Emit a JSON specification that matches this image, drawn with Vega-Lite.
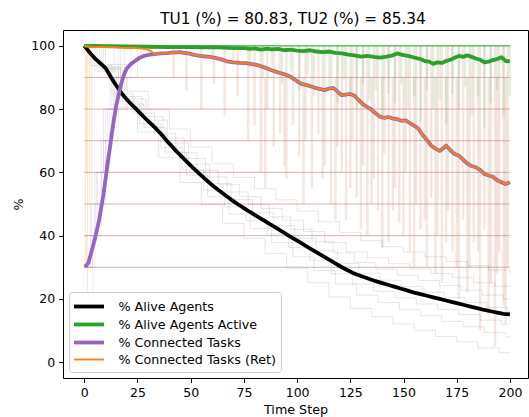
{
  "$schema": "https://vega.github.io/schema/vega-lite/v6.json",
  "width": 465,
  "height": 348,
  "autosize": {"type": "none"},
  "padding": {"left": 63, "top": 30, "right": 1, "bottom": 39},
  "background": "white",
  "title": {"text": "TU1 (%) = 80.83, TU2 (%) = 85.34", "font": "DejaVu Sans", "fontSize": 15.3, "fontWeight": "normal", "color": "#000000", "anchor": "middle", "baseline": "bottom", "offset": -12, "dx": -2.5},
  "config": {
    "view": {"stroke": "#000000", "strokeWidth": 1},
    "axis": {"domain": false, "grid": false, "ticks": true, "tickColor": "#000000", "tickSize": 4.4, "tickWidth": 1, "labelColor": "#000000", "labelFont": "DejaVu Sans", "labelFontSize": 12.5, "labelPadding": 4, "titleFont": "DejaVu Sans", "titleFontSize": 12.7, "titleFontWeight": "normal", "titleColor": "#000000", "labelFlush": false, "labelOverlap": false}
  },
  "datasets": {
    "main": [
      {"s":"% Alive Agents","t":0,"v":100},{"s":"% Alive Agents","t":1,"v":99.2},{"s":"% Alive Agents","t":2,"v":98.3},{"s":"% Alive Agents","t":3,"v":97.5},{"s":"% Alive Agents","t":4,"v":96.8},{"s":"% Alive Agents","t":5,"v":96},{"s":"% Alive Agents","t":6,"v":95.4},{"s":"% Alive Agents","t":7,"v":94.8},{"s":"% Alive Agents","t":8,"v":94.2},{"s":"% Alive Agents","t":9,"v":93.6},{"s":"% Alive Agents","t":10,"v":93},{"s":"% Alive Agents","t":12,"v":90.7},{"s":"% Alive Agents","t":14,"v":88.5},{"s":"% Alive Agents","t":16,"v":86.5},{"s":"% Alive Agents","t":18,"v":84.6},{"s":"% Alive Agents","t":20,"v":83},{"s":"% Alive Agents","t":22,"v":81.6},{"s":"% Alive Agents","t":24,"v":80.3},{"s":"% Alive Agents","t":26,"v":78.9},{"s":"% Alive Agents","t":28,"v":77.5},{"s":"% Alive Agents","t":30,"v":76.2},{"s":"% Alive Agents","t":33,"v":74.3},{"s":"% Alive Agents","t":36,"v":72.2},{"s":"% Alive Agents","t":39,"v":69.8},{"s":"% Alive Agents","t":42,"v":67.6},{"s":"% Alive Agents","t":45,"v":65.5},{"s":"% Alive Agents","t":48,"v":63.5},{"s":"% Alive Agents","t":51,"v":61.5},{"s":"% Alive Agents","t":54,"v":59.6},{"s":"% Alive Agents","t":57,"v":57.8},{"s":"% Alive Agents","t":60,"v":56},{"s":"% Alive Agents","t":63,"v":54.4},{"s":"% Alive Agents","t":66,"v":52.9},{"s":"% Alive Agents","t":69,"v":51.4},{"s":"% Alive Agents","t":72,"v":50},{"s":"% Alive Agents","t":75,"v":48.7},{"s":"% Alive Agents","t":78,"v":47.4},{"s":"% Alive Agents","t":81,"v":46.2},{"s":"% Alive Agents","t":84,"v":45},{"s":"% Alive Agents","t":87,"v":43.7},{"s":"% Alive Agents","t":90,"v":42.5},{"s":"% Alive Agents","t":93,"v":41.3},{"s":"% Alive Agents","t":96,"v":40},{"s":"% Alive Agents","t":99,"v":38.8},{"s":"% Alive Agents","t":102,"v":37.6},{"s":"% Alive Agents","t":105,"v":36.4},{"s":"% Alive Agents","t":108,"v":35.2},{"s":"% Alive Agents","t":111,"v":34},{"s":"% Alive Agents","t":114,"v":32.8},{"s":"% Alive Agents","t":117,"v":31.6},{"s":"% Alive Agents","t":120,"v":30.4},{"s":"% Alive Agents","t":123,"v":29.3},{"s":"% Alive Agents","t":126,"v":28.3},{"s":"% Alive Agents","t":128,"v":27.7},{"s":"% Alive Agents","t":131,"v":27},{"s":"% Alive Agents","t":134,"v":26.3},{"s":"% Alive Agents","t":137,"v":25.6},{"s":"% Alive Agents","t":140,"v":25},{"s":"% Alive Agents","t":143,"v":24.4},{"s":"% Alive Agents","t":146,"v":23.8},{"s":"% Alive Agents","t":149,"v":23.2},{"s":"% Alive Agents","t":152,"v":22.6},{"s":"% Alive Agents","t":155,"v":22},{"s":"% Alive Agents","t":158,"v":21.5},{"s":"% Alive Agents","t":161,"v":21},{"s":"% Alive Agents","t":164,"v":20.5},{"s":"% Alive Agents","t":167,"v":20},{"s":"% Alive Agents","t":170,"v":19.5},{"s":"% Alive Agents","t":173,"v":19},{"s":"% Alive Agents","t":176,"v":18.5},{"s":"% Alive Agents","t":179,"v":18},{"s":"% Alive Agents","t":182,"v":17.5},{"s":"% Alive Agents","t":185,"v":17},{"s":"% Alive Agents","t":188,"v":16.5},{"s":"% Alive Agents","t":191,"v":16.1},{"s":"% Alive Agents","t":194,"v":15.7},{"s":"% Alive Agents","t":197,"v":15.3},{"s":"% Alive Agents","t":200,"v":15.1},
      {"s":"% Alive Agents Active","t":0,"v":100},{"s":"% Alive Agents Active","t":5,"v":100},{"s":"% Alive Agents Active","t":10,"v":99.9},{"s":"% Alive Agents Active","t":20,"v":99.8},{"s":"% Alive Agents Active","t":30,"v":99.7},{"s":"% Alive Agents Active","t":40,"v":99.6},{"s":"% Alive Agents Active","t":50,"v":99.6},{"s":"% Alive Agents Active","t":55,"v":99.5},{"s":"% Alive Agents Active","t":60,"v":99.6},{"s":"% Alive Agents Active","t":65,"v":99.4},{"s":"% Alive Agents Active","t":70,"v":99.3},{"s":"% Alive Agents Active","t":75,"v":99.3},{"s":"% Alive Agents Active","t":78,"v":99.0},{"s":"% Alive Agents Active","t":80,"v":99.2},{"s":"% Alive Agents Active","t":83,"v":98.8},{"s":"% Alive Agents Active","t":86,"v":99.1},{"s":"% Alive Agents Active","t":88,"v":98.9},{"s":"% Alive Agents Active","t":91,"v":99.0},{"s":"% Alive Agents Active","t":94,"v":98.6},{"s":"% Alive Agents Active","t":97,"v":98.8},{"s":"% Alive Agents Active","t":100,"v":98.5},{"s":"% Alive Agents Active","t":103,"v":98.3},{"s":"% Alive Agents Active","t":106,"v":98.6},{"s":"% Alive Agents Active","t":109,"v":98.2},{"s":"% Alive Agents Active","t":112,"v":98.0},{"s":"% Alive Agents Active","t":115,"v":98.2},{"s":"% Alive Agents Active","t":118,"v":97.8},{"s":"% Alive Agents Active","t":121,"v":97.6},{"s":"% Alive Agents Active","t":124,"v":97.2},{"s":"% Alive Agents Active","t":127,"v":97.0},{"s":"% Alive Agents Active","t":130,"v":96.6},{"s":"% Alive Agents Active","t":133,"v":96.8},{"s":"% Alive Agents Active","t":136,"v":96.5},{"s":"% Alive Agents Active","t":139,"v":96.3},{"s":"% Alive Agents Active","t":142,"v":96.6},{"s":"% Alive Agents Active","t":145,"v":97.0},{"s":"% Alive Agents Active","t":147,"v":97.6},{"s":"% Alive Agents Active","t":149,"v":97.2},{"s":"% Alive Agents Active","t":152,"v":96.8},{"s":"% Alive Agents Active","t":155,"v":96.3},{"s":"% Alive Agents Active","t":158,"v":95.8},{"s":"% Alive Agents Active","t":160,"v":95.2},{"s":"% Alive Agents Active","t":162,"v":95.0},{"s":"% Alive Agents Active","t":164,"v":94.3},{"s":"% Alive Agents Active","t":166,"v":94.8},{"s":"% Alive Agents Active","t":168,"v":94.6},{"s":"% Alive Agents Active","t":170,"v":95.2},{"s":"% Alive Agents Active","t":172,"v":95.6},{"s":"% Alive Agents Active","t":174,"v":96.2},{"s":"% Alive Agents Active","t":176,"v":96.8},{"s":"% Alive Agents Active","t":178,"v":96.5},{"s":"% Alive Agents Active","t":180,"v":97.0},{"s":"% Alive Agents Active","t":182,"v":96.5},{"s":"% Alive Agents Active","t":184,"v":96.0},{"s":"% Alive Agents Active","t":186,"v":95.6},{"s":"% Alive Agents Active","t":188,"v":94.8},{"s":"% Alive Agents Active","t":190,"v":95.0},{"s":"% Alive Agents Active","t":192,"v":95.5},{"s":"% Alive Agents Active","t":194,"v":95.8},{"s":"% Alive Agents Active","t":196,"v":96.4},{"s":"% Alive Agents Active","t":198,"v":95.2},{"s":"% Alive Agents Active","t":200,"v":95.1},
      {"s":"% Connected Tasks","t":0,"v":30.5},{"s":"% Connected Tasks","t":1,"v":30.5},{"s":"% Connected Tasks","t":2,"v":31.5},{"s":"% Connected Tasks","t":3,"v":34},{"s":"% Connected Tasks","t":4,"v":36.5},{"s":"% Connected Tasks","t":5,"v":39},{"s":"% Connected Tasks","t":6,"v":42},{"s":"% Connected Tasks","t":7,"v":45},{"s":"% Connected Tasks","t":8,"v":49},{"s":"% Connected Tasks","t":9,"v":53},{"s":"% Connected Tasks","t":10,"v":58},{"s":"% Connected Tasks","t":11,"v":63},{"s":"% Connected Tasks","t":12,"v":67.5},{"s":"% Connected Tasks","t":13,"v":72.5},{"s":"% Connected Tasks","t":14,"v":77},{"s":"% Connected Tasks","t":15,"v":81},{"s":"% Connected Tasks","t":16,"v":84},{"s":"% Connected Tasks","t":17,"v":87},{"s":"% Connected Tasks","t":18,"v":89.5},{"s":"% Connected Tasks","t":19,"v":91.5},{"s":"% Connected Tasks","t":20,"v":92.8},{"s":"% Connected Tasks","t":22,"v":94.3},{"s":"% Connected Tasks","t":24,"v":95.3},{"s":"% Connected Tasks","t":26,"v":96.2},{"s":"% Connected Tasks","t":28,"v":96.8},{"s":"% Connected Tasks","t":30,"v":97.1},{"s":"% Connected Tasks","t":33,"v":97.4},{"s":"% Connected Tasks","t":36,"v":97.6},{"s":"% Connected Tasks","t":39,"v":97.7},{"s":"% Connected Tasks","t":42,"v":97.9},{"s":"% Connected Tasks","t":45,"v":98.0},{"s":"% Connected Tasks","t":47,"v":97.8},{"s":"% Connected Tasks","t":49,"v":97.6},{"s":"% Connected Tasks","t":51,"v":97.2},{"s":"% Connected Tasks","t":53,"v":97.0},{"s":"% Connected Tasks","t":56,"v":96.7},{"s":"% Connected Tasks","t":59,"v":96.5},{"s":"% Connected Tasks","t":62,"v":96.1},{"s":"% Connected Tasks","t":64,"v":95.8},{"s":"% Connected Tasks","t":67,"v":95.1},{"s":"% Connected Tasks","t":70,"v":94.8},{"s":"% Connected Tasks","t":73,"v":94.6},{"s":"% Connected Tasks","t":76,"v":94.5},{"s":"% Connected Tasks","t":79,"v":94.2},{"s":"% Connected Tasks","t":82,"v":93.8},{"s":"% Connected Tasks","t":85,"v":93.1},{"s":"% Connected Tasks","t":88,"v":92.3},{"s":"% Connected Tasks","t":91,"v":91.6},{"s":"% Connected Tasks","t":94,"v":91.0},{"s":"% Connected Tasks","t":97,"v":90.2},{"s":"% Connected Tasks","t":100,"v":88.8},{"s":"% Connected Tasks","t":102,"v":88.0},{"s":"% Connected Tasks","t":105,"v":87.5},{"s":"% Connected Tasks","t":108,"v":86.8},{"s":"% Connected Tasks","t":111,"v":86.3},{"s":"% Connected Tasks","t":113,"v":86.0},{"s":"% Connected Tasks","t":115,"v":86.5},{"s":"% Connected Tasks","t":117,"v":86.7},{"s":"% Connected Tasks","t":119,"v":85.5},{"s":"% Connected Tasks","t":121,"v":84.4},{"s":"% Connected Tasks","t":123,"v":84.6},{"s":"% Connected Tasks","t":125,"v":84.8},{"s":"% Connected Tasks","t":127,"v":84.2},{"s":"% Connected Tasks","t":129,"v":82.8},{"s":"% Connected Tasks","t":131,"v":81.5},{"s":"% Connected Tasks","t":133,"v":80.6},{"s":"% Connected Tasks","t":135,"v":79.8},{"s":"% Connected Tasks","t":137,"v":78.6},{"s":"% Connected Tasks","t":139,"v":77.6},{"s":"% Connected Tasks","t":141,"v":77.2},{"s":"% Connected Tasks","t":143,"v":77.5},{"s":"% Connected Tasks","t":145,"v":77.0},{"s":"% Connected Tasks","t":147,"v":76.8},{"s":"% Connected Tasks","t":149,"v":76.3},{"s":"% Connected Tasks","t":151,"v":76.4},{"s":"% Connected Tasks","t":153,"v":75.6},{"s":"% Connected Tasks","t":155,"v":74.8},{"s":"% Connected Tasks","t":157,"v":73.8},{"s":"% Connected Tasks","t":159,"v":71.8},{"s":"% Connected Tasks","t":161,"v":70.2},{"s":"% Connected Tasks","t":163,"v":68.5},{"s":"% Connected Tasks","t":165,"v":67.5},{"s":"% Connected Tasks","t":167,"v":66.8},{"s":"% Connected Tasks","t":169,"v":67.8},{"s":"% Connected Tasks","t":170,"v":68.5},{"s":"% Connected Tasks","t":172,"v":67.0},{"s":"% Connected Tasks","t":174,"v":65.8},{"s":"% Connected Tasks","t":176,"v":65.3},{"s":"% Connected Tasks","t":178,"v":64.0},{"s":"% Connected Tasks","t":180,"v":62.8},{"s":"% Connected Tasks","t":182,"v":62.0},{"s":"% Connected Tasks","t":184,"v":61.6},{"s":"% Connected Tasks","t":186,"v":60.8},{"s":"% Connected Tasks","t":188,"v":59.5},{"s":"% Connected Tasks","t":190,"v":59.0},{"s":"% Connected Tasks","t":192,"v":58.6},{"s":"% Connected Tasks","t":194,"v":57.5},{"s":"% Connected Tasks","t":196,"v":56.9},{"s":"% Connected Tasks","t":198,"v":56.3},{"s":"% Connected Tasks","t":200,"v":56.9},
      {"s":"% Connected Tasks (Ret)","t":0,"v":100},{"s":"% Connected Tasks (Ret)","t":2,"v":99.8},{"s":"% Connected Tasks (Ret)","t":5,"v":99.6},{"s":"% Connected Tasks (Ret)","t":8,"v":99.7},{"s":"% Connected Tasks (Ret)","t":11,"v":99.5},{"s":"% Connected Tasks (Ret)","t":14,"v":99.6},{"s":"% Connected Tasks (Ret)","t":17,"v":99.4},{"s":"% Connected Tasks (Ret)","t":20,"v":99.3},{"s":"% Connected Tasks (Ret)","t":23,"v":99.4},{"s":"% Connected Tasks (Ret)","t":26,"v":99.2},{"s":"% Connected Tasks (Ret)","t":29,"v":99.0},{"s":"% Connected Tasks (Ret)","t":31,"v":98.4},{"s":"% Connected Tasks (Ret)","t":33,"v":97.4},{"s":"% Connected Tasks (Ret)","t":36,"v":97.6},{"s":"% Connected Tasks (Ret)","t":39,"v":97.7},{"s":"% Connected Tasks (Ret)","t":42,"v":97.9},{"s":"% Connected Tasks (Ret)","t":45,"v":98.0},{"s":"% Connected Tasks (Ret)","t":47,"v":97.8},{"s":"% Connected Tasks (Ret)","t":49,"v":97.6},{"s":"% Connected Tasks (Ret)","t":51,"v":97.2},{"s":"% Connected Tasks (Ret)","t":53,"v":97.0},{"s":"% Connected Tasks (Ret)","t":56,"v":96.7},{"s":"% Connected Tasks (Ret)","t":59,"v":96.5},{"s":"% Connected Tasks (Ret)","t":62,"v":96.1},{"s":"% Connected Tasks (Ret)","t":64,"v":95.8},{"s":"% Connected Tasks (Ret)","t":67,"v":95.1},{"s":"% Connected Tasks (Ret)","t":70,"v":94.8},{"s":"% Connected Tasks (Ret)","t":73,"v":94.6},{"s":"% Connected Tasks (Ret)","t":76,"v":94.5},{"s":"% Connected Tasks (Ret)","t":79,"v":94.2},{"s":"% Connected Tasks (Ret)","t":82,"v":93.8},{"s":"% Connected Tasks (Ret)","t":85,"v":93.1},{"s":"% Connected Tasks (Ret)","t":88,"v":92.3},{"s":"% Connected Tasks (Ret)","t":91,"v":91.6},{"s":"% Connected Tasks (Ret)","t":94,"v":91.0},{"s":"% Connected Tasks (Ret)","t":97,"v":90.2},{"s":"% Connected Tasks (Ret)","t":100,"v":88.8},{"s":"% Connected Tasks (Ret)","t":102,"v":88.0},{"s":"% Connected Tasks (Ret)","t":105,"v":87.5},{"s":"% Connected Tasks (Ret)","t":108,"v":86.8},{"s":"% Connected Tasks (Ret)","t":111,"v":86.3},{"s":"% Connected Tasks (Ret)","t":113,"v":86.0},{"s":"% Connected Tasks (Ret)","t":115,"v":86.5},{"s":"% Connected Tasks (Ret)","t":117,"v":86.7},{"s":"% Connected Tasks (Ret)","t":119,"v":85.5},{"s":"% Connected Tasks (Ret)","t":121,"v":84.4},{"s":"% Connected Tasks (Ret)","t":123,"v":84.6},{"s":"% Connected Tasks (Ret)","t":125,"v":84.8},{"s":"% Connected Tasks (Ret)","t":127,"v":84.2},{"s":"% Connected Tasks (Ret)","t":129,"v":82.8},{"s":"% Connected Tasks (Ret)","t":131,"v":81.5},{"s":"% Connected Tasks (Ret)","t":133,"v":80.6},{"s":"% Connected Tasks (Ret)","t":135,"v":79.8},{"s":"% Connected Tasks (Ret)","t":137,"v":78.6},{"s":"% Connected Tasks (Ret)","t":139,"v":77.6},{"s":"% Connected Tasks (Ret)","t":141,"v":77.2},{"s":"% Connected Tasks (Ret)","t":143,"v":77.5},{"s":"% Connected Tasks (Ret)","t":145,"v":77.0},{"s":"% Connected Tasks (Ret)","t":147,"v":76.8},{"s":"% Connected Tasks (Ret)","t":149,"v":76.3},{"s":"% Connected Tasks (Ret)","t":151,"v":76.4},{"s":"% Connected Tasks (Ret)","t":153,"v":75.6},{"s":"% Connected Tasks (Ret)","t":155,"v":74.8},{"s":"% Connected Tasks (Ret)","t":157,"v":73.8},{"s":"% Connected Tasks (Ret)","t":159,"v":71.8},{"s":"% Connected Tasks (Ret)","t":161,"v":70.2},{"s":"% Connected Tasks (Ret)","t":163,"v":68.5},{"s":"% Connected Tasks (Ret)","t":165,"v":67.5},{"s":"% Connected Tasks (Ret)","t":167,"v":66.8},{"s":"% Connected Tasks (Ret)","t":169,"v":67.8},{"s":"% Connected Tasks (Ret)","t":170,"v":68.5},{"s":"% Connected Tasks (Ret)","t":172,"v":67.0},{"s":"% Connected Tasks (Ret)","t":174,"v":65.8},{"s":"% Connected Tasks (Ret)","t":176,"v":65.3},{"s":"% Connected Tasks (Ret)","t":178,"v":64.0},{"s":"% Connected Tasks (Ret)","t":180,"v":62.8},{"s":"% Connected Tasks (Ret)","t":182,"v":62.0},{"s":"% Connected Tasks (Ret)","t":184,"v":61.6},{"s":"% Connected Tasks (Ret)","t":186,"v":60.8},{"s":"% Connected Tasks (Ret)","t":188,"v":59.5},{"s":"% Connected Tasks (Ret)","t":190,"v":59.0},{"s":"% Connected Tasks (Ret)","t":192,"v":58.6},{"s":"% Connected Tasks (Ret)","t":194,"v":57.5},{"s":"% Connected Tasks (Ret)","t":196,"v":56.9},{"s":"% Connected Tasks (Ret)","t":198,"v":56.3},{"s":"% Connected Tasks (Ret)","t":200,"v":56.9}
    ],
    "alive_runs": [
      {"r":1,"t":0,"v":100},{"r":1,"t":5,"v":92},{"r":1,"t":15,"v":80.6},{"r":1,"t":25,"v":72.8},{"r":1,"t":35,"v":64.6},{"r":1,"t":45,"v":56.8},{"r":1,"t":55,"v":49.8},{"r":1,"t":65,"v":43.9},{"r":1,"t":75,"v":39.1},{"r":1,"t":85,"v":34.4},{"r":1,"t":95,"v":29.7},{"r":1,"t":105,"v":25.1},{"r":1,"t":115,"v":20.6},{"r":1,"t":125,"v":17},{"r":1,"t":135,"v":14.4},{"r":1,"t":145,"v":12.1},{"r":1,"t":155,"v":10.1},{"r":1,"t":165,"v":8.1},{"r":1,"t":175,"v":6.4},{"r":1,"t":185,"v":4.5},{"r":1,"t":195,"v":3},{"r":1,"t":200,"v":3},
      {"r":2,"t":0,"v":100},{"r":2,"t":8,"v":92.5},{"r":2,"t":18,"v":81.6},{"r":2,"t":28,"v":74.2},{"r":2,"t":38,"v":66.4},{"r":2,"t":48,"v":59.1},{"r":2,"t":58,"v":52.3},{"r":2,"t":68,"v":46.8},{"r":2,"t":78,"v":42.2},{"r":2,"t":88,"v":37.8},{"r":2,"t":98,"v":33.3},{"r":2,"t":108,"v":29},{"r":2,"t":118,"v":24.7},{"r":2,"t":128,"v":21.2},{"r":2,"t":138,"v":18.9},{"r":2,"t":148,"v":16.6},{"r":2,"t":158,"v":14.7},{"r":2,"t":168,"v":12.9},{"r":2,"t":178,"v":11.2},{"r":2,"t":188,"v":9.4},{"r":2,"t":198,"v":8},{"r":2,"t":200,"v":8},
      {"r":3,"t":0,"v":100},{"r":3,"t":6,"v":92.8},{"r":3,"t":16,"v":82.4},{"r":3,"t":26,"v":75.4},{"r":3,"t":36,"v":67.9},{"r":3,"t":46,"v":60.8},{"r":3,"t":56,"v":54.4},{"r":3,"t":66,"v":49.1},{"r":3,"t":76,"v":44.7},{"r":3,"t":86,"v":40.5},{"r":3,"t":96,"v":36.2},{"r":3,"t":106,"v":32.1},{"r":3,"t":116,"v":27.9},{"r":3,"t":126,"v":24.7},{"r":3,"t":136,"v":22.4},{"r":3,"t":146,"v":20.3},{"r":3,"t":156,"v":18.4},{"r":3,"t":166,"v":16.7},{"r":3,"t":176,"v":15.1},{"r":3,"t":186,"v":13.3},{"r":3,"t":196,"v":12},{"r":3,"t":200,"v":12},
      {"r":4,"t":0,"v":100},{"r":4,"t":9,"v":93.1},{"r":4,"t":19,"v":83.2},{"r":4,"t":29,"v":76.5},{"r":4,"t":39,"v":69.3},{"r":4,"t":49,"v":62.6},{"r":4,"t":59,"v":56.5},{"r":4,"t":69,"v":51.4},{"r":4,"t":79,"v":47.2},{"r":4,"t":89,"v":43.2},{"r":4,"t":99,"v":39.1},{"r":4,"t":109,"v":35.2},{"r":4,"t":119,"v":31.2},{"r":4,"t":129,"v":28.1},{"r":4,"t":139,"v":25.9},{"r":4,"t":149,"v":23.9},{"r":4,"t":159,"v":22.1},{"r":4,"t":169,"v":20.5},{"r":4,"t":179,"v":18.9},{"r":4,"t":189,"v":17.3},{"r":4,"t":199,"v":16},{"r":4,"t":200,"v":16},
      {"r":5,"t":0,"v":100},{"r":5,"t":7,"v":93.4},{"r":5,"t":17,"v":84},{"r":5,"t":27,"v":77.6},{"r":5,"t":37,"v":70.8},{"r":5,"t":47,"v":64.4},{"r":5,"t":57,"v":58.6},{"r":5,"t":67,"v":53.8},{"r":5,"t":77,"v":49.8},{"r":5,"t":87,"v":45.9},{"r":5,"t":97,"v":42},{"r":5,"t":107,"v":38.2},{"r":5,"t":117,"v":34.5},{"r":5,"t":127,"v":31.5},{"r":5,"t":137,"v":29.4},{"r":5,"t":147,"v":27.5},{"r":5,"t":157,"v":25.8},{"r":5,"t":167,"v":24.2},{"r":5,"t":177,"v":22.8},{"r":5,"t":187,"v":21.2},{"r":5,"t":197,"v":20},{"r":5,"t":200,"v":20},
      {"r":6,"t":0,"v":100},{"r":6,"t":3,"v":93.8},{"r":6,"t":13,"v":84.8},{"r":6,"t":23,"v":78.7},{"r":6,"t":33,"v":72.3},{"r":6,"t":43,"v":66.2},{"r":6,"t":53,"v":60.6},{"r":6,"t":63,"v":56.1},{"r":6,"t":73,"v":52.3},{"r":6,"t":83,"v":48.6},{"r":6,"t":93,"v":44.9},{"r":6,"t":103,"v":41.3},{"r":6,"t":113,"v":37.8},{"r":6,"t":123,"v":34.9},{"r":6,"t":133,"v":33},{"r":6,"t":143,"v":31.1},{"r":6,"t":153,"v":29.5},{"r":6,"t":163,"v":28},{"r":6,"t":173,"v":26.7},{"r":6,"t":183,"v":25.1},{"r":6,"t":193,"v":24},{"r":6,"t":200,"v":24},
      {"r":7,"t":0,"v":100},{"r":7,"t":10,"v":94.1},{"r":7,"t":20,"v":85.6},{"r":7,"t":30,"v":79.8},{"r":7,"t":40,"v":73.7},{"r":7,"t":50,"v":68},{"r":7,"t":60,"v":62.7},{"r":7,"t":70,"v":58.4},{"r":7,"t":80,"v":54.8},{"r":7,"t":90,"v":51.3},{"r":7,"t":100,"v":47.8},{"r":7,"t":110,"v":44.4},{"r":7,"t":120,"v":41},{"r":7,"t":130,"v":38.4},{"r":7,"t":140,"v":36.5},{"r":7,"t":150,"v":34.8},{"r":7,"t":160,"v":33.3},{"r":7,"t":170,"v":31.8},{"r":7,"t":180,"v":30.5},{"r":7,"t":190,"v":29.1},{"r":7,"t":200,"v":28}
    ],
    "task_runs": [
      {"r":1,"t":0,"v":30},{"r":1,"t":3,"v":40},{"r":1,"t":6,"v":60},{"r":1,"t":9,"v":80},{"r":1,"t":12,"v":90},{"r":1,"t":16,"v":100},{"r":1,"t":30,"v":100},
      {"r":2,"t":0,"v":30},{"r":2,"t":5,"v":50},{"r":2,"t":8,"v":70},{"r":2,"t":11,"v":80},{"r":2,"t":14,"v":90},{"r":2,"t":19,"v":100},{"r":2,"t":30,"v":100},
      {"r":3,"t":0,"v":20},{"r":3,"t":4,"v":40},{"r":3,"t":7,"v":50},{"r":3,"t":10,"v":70},{"r":3,"t":13,"v":90},{"r":3,"t":17,"v":100},{"r":3,"t":30,"v":100},
      {"r":4,"t":0,"v":40},{"r":4,"t":3,"v":50},{"r":4,"t":6,"v":60},{"r":4,"t":9,"v":70},{"r":4,"t":12,"v":80},{"r":4,"t":15,"v":90},{"r":4,"t":22,"v":100},{"r":4,"t":30,"v":100},
      {"r":5,"t":0,"v":30},{"r":5,"t":4,"v":40},{"r":5,"t":8,"v":60},{"r":5,"t":12,"v":70},{"r":5,"t":16,"v":80},{"r":5,"t":20,"v":90},{"r":5,"t":25,"v":100},{"r":5,"t":30,"v":100},
      {"r":6,"t":0,"v":30},{"r":6,"t":1,"v":40},{"r":6,"t":5,"v":60},{"r":6,"t":10,"v":80},{"r":6,"t":14,"v":100},{"r":6,"t":30,"v":100}
    ],
    "levels": [
      {"k":"b","t":0,"t2":200,"v":90},{"k":"b","t":0,"t2":200,"v":80},{"k":"b","t":0,"t2":200,"v":70},{"k":"b","t":0,"t2":200,"v":60},{"k":"b","t":0,"t2":200,"v":50},{"k":"b","t":0,"t2":200,"v":40},{"k":"b","t":0,"t2":200,"v":30},
      {"k":"g","t":0,"t2":200,"v":100}
    ],
    "spikes": [
      {"k":"o","t":0.5,"v":100,"v2":30},{"k":"o","t":1,"v":100,"v2":60},{"k":"o","t":1.5,"v":100,"v2":20},{"k":"o","t":2.5,"v":100,"v2":50},{"k":"o","t":3.5,"v":100,"v2":40},
      {"k":"b","t":42,"v":100,"v2":90},{"k":"b","t":48,"v":100,"v2":86},{"k":"b","t":55,"v":100,"v2":80},{"k":"b","t":61,"v":100,"v2":88},{"k":"b","t":66,"v":100,"v2":78},{"k":"b","t":72,"v":100,"v2":84},{"k":"b","t":77,"v":100,"v2":70},
      {"k":"b","t":80,"v":100,"v2":75},{"k":"b","t":83,"v":100,"v2":60},{"k":"b","t":86,"v":100,"v2":80},{"k":"b","t":89,"v":100,"v2":68},{"k":"b","t":92,"v":100,"v2":72},{"k":"b","t":95,"v":100,"v2":58},{"k":"b","t":98,"v":100,"v2":75},{"k":"b","t":101,"v":100,"v2":65},{"k":"b","t":104,"v":100,"v2":70},{"k":"b","t":107,"v":100,"v2":55},{"k":"b","t":110,"v":100,"v2":72},{"k":"b","t":113,"v":100,"v2":62},{"k":"b","t":116,"v":100,"v2":50},{"k":"b","t":119,"v":100,"v2":68},
      {"k":"b","t":121,"v":100,"v2":60},{"k":"b","t":123,"v":100,"v2":45},{"k":"b","t":126,"v":100,"v2":70},{"k":"b","t":128,"v":100,"v2":52},{"k":"b","t":131,"v":100,"v2":62},{"k":"b","t":133,"v":100,"v2":40},{"k":"b","t":136,"v":100,"v2":58},{"k":"b","t":138,"v":100,"v2":48},{"k":"b","t":141,"v":100,"v2":66},{"k":"b","t":143,"v":100,"v2":38},{"k":"b","t":146,"v":100,"v2":55},{"k":"b","t":148,"v":100,"v2":44},{"k":"b","t":151,"v":100,"v2":60},{"k":"b","t":153,"v":100,"v2":35},{"k":"b","t":156,"v":100,"v2":50},{"k":"b","t":158,"v":100,"v2":42},
      {"k":"b","t":161,"v":100,"v2":30},{"k":"b","t":163,"v":100,"v2":52},{"k":"b","t":166,"v":100,"v2":40},{"k":"b","t":168,"v":100,"v2":25},{"k":"b","t":171,"v":100,"v2":48},{"k":"b","t":173,"v":100,"v2":35},{"k":"b","t":176,"v":100,"v2":20},{"k":"b","t":178,"v":100,"v2":45},{"k":"b","t":181,"v":100,"v2":30},{"k":"b","t":183,"v":100,"v2":38},{"k":"b","t":186,"v":100,"v2":10},{"k":"b","t":188,"v":100,"v2":42},{"k":"b","t":191,"v":100,"v2":25},{"k":"b","t":193,"v":100,"v2":5},{"k":"b","t":195,"v":100,"v2":35},{"k":"b","t":197,"v":100,"v2":18},{"k":"b","t":199,"v":100,"v2":30},
      {"k":"b","t":85,"v":90,"v2":55},{"k":"b","t":94,"v":90,"v2":62},{"k":"b","t":103,"v":90,"v2":50},{"k":"b","t":112,"v":90,"v2":58},{"k":"b","t":118,"v":90,"v2":45},{"k":"b","t":125,"v":90,"v2":55},{"k":"b","t":130,"v":90,"v2":42},{"k":"b","t":135,"v":90,"v2":50},{"k":"b","t":140,"v":90,"v2":36},{"k":"b","t":145,"v":90,"v2":48},{"k":"b","t":150,"v":90,"v2":40},{"k":"b","t":155,"v":90,"v2":30},{"k":"b","t":160,"v":90,"v2":45},{"k":"b","t":165,"v":90,"v2":28},{"k":"b","t":170,"v":90,"v2":38},{"k":"b","t":175,"v":90,"v2":30},{"k":"b","t":180,"v":90,"v2":22},{"k":"b","t":185,"v":90,"v2":35},{"k":"b","t":190,"v":90,"v2":15},{"k":"b","t":194,"v":90,"v2":28},{"k":"b","t":198,"v":90,"v2":12},
      {"k":"g","t":60,"v":100,"v2":97},{"k":"g","t":70,"v":100,"v2":95},{"k":"g","t":78,"v":100,"v2":93},{"k":"g","t":84,"v":100,"v2":90},{"k":"g","t":88,"v":100,"v2":94},{"k":"g","t":93,"v":100,"v2":88},{"k":"g","t":97,"v":100,"v2":92},{"k":"g","t":101,"v":100,"v2":86},{"k":"g","t":105,"v":100,"v2":91},{"k":"g","t":108,"v":100,"v2":84},{"k":"g","t":112,"v":100,"v2":90},{"k":"g","t":115,"v":100,"v2":87},{"k":"g","t":119,"v":100,"v2":82},{"k":"g","t":122,"v":100,"v2":89},{"k":"g","t":125,"v":100,"v2":85},{"k":"g","t":128,"v":100,"v2":80},{"k":"g","t":131,"v":100,"v2":88},{"k":"g","t":134,"v":100,"v2":83},{"k":"g","t":137,"v":100,"v2":86},{"k":"g","t":140,"v":100,"v2":78},{"k":"g","t":143,"v":100,"v2":85},{"k":"g","t":146,"v":100,"v2":82},{"k":"g","t":149,"v":100,"v2":88},{"k":"g","t":152,"v":100,"v2":80},{"k":"g","t":155,"v":100,"v2":84},{"k":"g","t":158,"v":100,"v2":76},{"k":"g","t":161,"v":100,"v2":86},{"k":"g","t":164,"v":100,"v2":80},{"k":"g","t":167,"v":100,"v2":83},{"k":"g","t":170,"v":100,"v2":75},{"k":"g","t":173,"v":100,"v2":85},{"k":"g","t":176,"v":100,"v2":80},{"k":"g","t":179,"v":100,"v2":87},{"k":"g","t":182,"v":100,"v2":78},{"k":"g","t":185,"v":100,"v2":84},{"k":"g","t":188,"v":100,"v2":74},{"k":"g","t":191,"v":100,"v2":82},{"k":"g","t":194,"v":100,"v2":86},{"k":"g","t":197,"v":100,"v2":78},{"k":"g","t":200,"v":100,"v2":84}
    ]
  },
  "encoding": {
    "x": {"field": "t", "type": "quantitative", "scale": {"domain": [-10, 208.5], "nice": false, "zero": false}, "axis": {"title": "Time Step", "values": [0,25,50,75,100,125,150,175,200], "titlePadding": 5}},
    "y": {"field": "v", "type": "quantitative", "scale": {"domain": [-5, 105], "nice": false, "zero": false}, "axis": {"title": "%", "values": [0,20,40,60,80,100], "titlePadding": 5}}
  },
  "layer": [
    {
      "data": {"name": "levels"},
      "transform": [{"filter": "datum.k == 'b'"}],
      "mark": {"type": "rule", "color": "#b8695c", "opacity": 0.5, "strokeWidth": 1},
      "encoding": {"x2": {"field": "t2"}}
    },
    {
      "data": {"name": "spikes"},
      "transform": [{"filter": "datum.k == 'b'"}],
      "mark": {"type": "rule", "color": "#c8806a", "opacity": 0.2, "strokeWidth": 2.5},
      "encoding": {"y2": {"field": "v2"}}
    },
    {
      "data": {"name": "spikes"},
      "transform": [{"filter": "datum.k == 'g'"}],
      "mark": {"type": "rule", "color": "#2ca02c", "opacity": 0.13, "strokeWidth": 2.5},
      "encoding": {"y2": {"field": "v2"}}
    },
    {
      "data": {"name": "spikes"},
      "transform": [{"filter": "datum.k == 'o'"}],
      "mark": {"type": "rule", "color": "#ff7f0e", "opacity": 0.2, "strokeWidth": 1},
      "encoding": {"y2": {"field": "v2"}}
    },
    {
      "data": {"name": "alive_runs"},
      "mark": {"type": "line", "interpolate": "step-after", "color": "#000000", "opacity": 0.1, "strokeWidth": 1},
      "encoding": {"detail": {"field": "r", "type": "nominal"}}
    },
    {
      "data": {"name": "task_runs"},
      "mark": {"type": "line", "interpolate": "step-after", "color": "#9467bd", "opacity": 0.15, "strokeWidth": 1},
      "encoding": {"detail": {"field": "r", "type": "nominal"}}
    },
    {
      "data": {"name": "levels"},
      "transform": [{"filter": "datum.k == 'g'"}],
      "mark": {"type": "rule", "color": "#2ca02c", "opacity": 0.7, "strokeWidth": 1.5},
      "encoding": {"x2": {"field": "t2"}}
    },
    {
      "data": {"name": "main"},
      "mark": {"type": "line", "strokeJoin": "round", "strokeCap": "butt"},
      "encoding": {
        "color": {"field": "s", "type": "nominal", "scale": {"domain": ["% Alive Agents", "% Alive Agents Active", "% Connected Tasks", "% Connected Tasks (Ret)"], "range": ["#000000", "#2ca02c", "#9467bd", "#ff7f0e"]},
          "legend": {"title": null, "orient": "bottom-left", "offset": 6, "symbolType": "M-2,0H2", "symbolSize": 225, "symbolOffset": 5.5, "labelOffset": 20, "labelFont": "DejaVu Sans", "labelFontSize": 12.7, "labelColor": "#000000", "labelLimit": 300, "padding": 5, "rowPadding": 0, "fillColor": "rgba(255,255,255,0.8)", "strokeColor": "#cccccc", "cornerRadius": 3}},
        "strokeWidth": {"field": "s", "type": "nominal", "scale": {"type": "ordinal", "domain": ["% Alive Agents", "% Alive Agents Active", "% Connected Tasks", "% Connected Tasks (Ret)"], "range": [3.8, 3.8, 3.8, 1.9]},
          "legend": {"title": null, "orient": "bottom-left", "offset": 6, "symbolType": "M-2,0H2", "symbolSize": 225, "symbolOffset": 5.5, "labelOffset": 20, "labelFont": "DejaVu Sans", "labelFontSize": 12.7, "labelColor": "#000000", "labelLimit": 300, "padding": 5, "rowPadding": 0, "fillColor": "rgba(255,255,255,0.8)", "strokeColor": "#cccccc", "cornerRadius": 3}}
      }
    }
  ]
}
